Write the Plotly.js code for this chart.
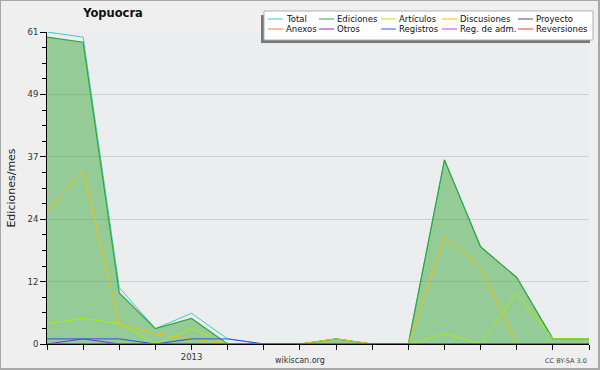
<!DOCTYPE html>
<html>
<head>
<meta charset="utf-8">
<script src="https://cdn.plot.ly/plotly-3.0.1.min.js"></script>
<style>
  html, body { margin: 0; padding: 0; background: #efefef; }
  #wrap { position: relative; width: 600px; height: 370px; }
  #chart { width: 600px; height: 370px; }
  #frame { position: absolute; left: 0; top: 0; width: 600px; height: 370px; box-sizing: border-box;
           border-left: 1px solid #a8a8a8; border-top: 1px solid #a8a8a8;
           border-right: 2px solid #a8a8a8; border-bottom: 2px solid #a8a8a8; pointer-events: none; }
</style>
</head>
<body>
<div id="wrap"><div id="chart"></div><div id="frame"></div></div>
<script>
// Months (Sep 2012 – Dec 2013)
var months = ['2012-09','2012-10','2012-11','2012-12','2013-01','2013-02','2013-03','2013-04',
              '2013-05','2013-06','2013-07','2013-08','2013-09','2013-10','2013-11','2013-12'];
var monthLabels = ['','','','','2013','','','','','','','','','','',''];

// Series (edits per month)
var total       = [61, 60, 11, 3, 6, 1, 0, 0, 1, 0, 0, 36, 19, 13, 1, 1];
var ediciones   = [60, 59, 10, 3, 5, 0, 0, 0, 1, 0, 0, 36, 19, 13, 1, 1];
var articulos   = [ 4,  5,  4, 0, 3, 0, 0, 0, 0, 0, 0,  2,  0, 10, 1, 1];
var discusiones = [26, 34,  4, 2, 1, 0, 0, 0, 1, 0, 0, 21, 15,  0, 0, 0];
var proyecto    = [ 0,  0,  0, 0, 0, 0, 0, 0, 0, 0, 0,  0,  0,  0, 0, 0];
var anexos      = [ 0,  0,  0, 0, 0, 0, 0, 0, 0, 0, 0,  0,  0,  0, 0, 0];
var otros       = [ 0,  1,  0, 0, 0, 0, 0, 0, 0, 0, 0,  0,  0,  0, 0, 0];
var registros   = [ 1,  1,  1, 0, 1, 1, 0, 0, 0, 0, 0,  0,  0,  0, 0, 0];
var regAdm      = [ 0,  0,  0, 0, 0, 0, 0, 0, 0, 0, 0,  0,  0,  0, 0, 0];
var reversiones = [ 0,  0,  0, 0, 0, 0, 0, 0, 0, 0, 0,  0,  0,  0, 0, 0];

var seriesNames  = ['Total','Ediciones','Artículos','Discusiones','Proyecto',
                    'Anexos','Otros','Registros','Reg. de adm.','Reversiones'];
var seriesValues = [total, ediciones, articulos, discusiones, proyecto,
                    anexos, otros, registros, regAdm, reversiones];
var seriesColors = ['#33d0cc','#33a838','#aaee11','#f2c200','#555555',
                    '#ff7f3f','#7a2ad8','#3050e8','#dd33dd','#ff3333'];

// Y ticks
var yMax = 61;
var yTickVals = [0, 12.2, 24.4, 36.6, 48.8, 61];
var yTickText = ['0','12','24','37','49','61'];
var yMinorVals = [3.05, 6.1, 9.15, 15.25, 18.3, 21.35, 27.45, 30.5, 33.55, 39.65, 42.7, 45.75, 51.85, 54.9, 57.95];

// Layout geometry (pixels)
var W = 600, H = 370, ML = 47, MR = 11, MT = 32, MB = 26;
var PW = W - ML - MR, PH = H - MT - MB;
function pxX(x) { return (x - ML) / PW; }
function pxY(y) { return (H - MB - y) / PH; }

var FONT = 'DejaVu Sans';

var traces = seriesNames.map(function (name, i) {
  var t = {
    x: months, y: seriesValues[i], name: name, type: 'scatter', mode: 'lines',
    line: { color: seriesColors[i], width: 1 }, showlegend: false, hoverinfo: 'skip'
  };
  if (name === 'Ediciones') {
    t.fill = 'tozeroy';
    t.fillcolor = 'rgba(60,170,64,0.5)';
    t.line.width = 1.2;
  }
  return t;
});

// Custom legend box (5 columns x 2 rows)
var legendCols = [268, 319, 381, 442, 518];
var legendRows = [19, 29];
var shapes = [
  { type: 'rect', xref: 'paper', yref: 'paper', x0: pxX(261), x1: pxX(590), y0: pxY(15), y1: pxY(43),
    fillcolor: '#777777', line: { width: 0 }, layer: 'above' },
  { type: 'rect', xref: 'paper', yref: 'paper', x0: pxX(264), x1: pxX(593), y0: pxY(11), y1: pxY(40),
    fillcolor: '#ffffff', line: { color: '#b0b0b0', width: 1 }, layer: 'above' }
];
var annotations = [];
seriesNames.forEach(function (name, i) {
  var col = i % 5, row = Math.floor(i / 5);
  var x0 = legendCols[col], y0 = legendRows[row];
  shapes.push({ type: 'line', xref: 'paper', yref: 'paper', x0: pxX(x0), x1: pxX(x0 + 15),
    y0: pxY(y0), y1: pxY(y0), line: { color: seriesColors[i], width: 1 }, layer: 'above' });
  annotations.push({ xref: 'paper', yref: 'paper', x: pxX(x0 + 16), y: pxY(y0), xanchor: 'left', yanchor: 'middle',
    text: name, showarrow: false, font: { family: FONT, size: 8.5, color: '#111' } });
});
annotations.push({ xref: 'paper', yref: 'paper', x: pxX(300), y: pxY(360), xanchor: 'center', yanchor: 'middle',
  text: 'wikiscan.org', showarrow: false, font: { family: FONT, size: 8, color: '#333' } });
annotations.push({ xref: 'paper', yref: 'paper', x: pxX(589), y: pxY(361), xanchor: 'right', yanchor: 'middle',
  text: 'CC BY-SA 3.0', showarrow: false, font: { family: FONT, size: 6.5, color: '#444' } });

var layout = {
  width: W, height: H,
  margin: { l: ML, r: MR, t: MT, b: MB, pad: 0 },
  paper_bgcolor: '#efefef',
  plot_bgcolor: '#ecedef',
  showlegend: false,
  title: { text: 'Yopuocra', x: pxX(113), xref: 'paper', xanchor: 'center', y: 1 - 13 / H, yref: 'container',
           yanchor: 'middle', font: { family: FONT, size: 11.5, weight: 'bold', color: '#111' } },
  xaxis: {
    type: 'category', range: [0, months.length - 1], tickmode: 'array', tickvals: months, ticktext: monthLabels,
    ticks: 'outside', ticklen: 5, tickcolor: '#000', tickwidth: 1, showgrid: false, zeroline: false,
    showline: true, linecolor: '#000', linewidth: 1, fixedrange: true,
    tickfont: { family: FONT, size: 8.5, color: '#333' }
  },
  yaxis: {
    range: [0, yMax], tickmode: 'array', tickvals: yTickVals, ticktext: yTickText,
    ticks: 'outside', ticklen: 6, tickcolor: '#000', tickwidth: 1,
    showgrid: true, gridcolor: '#cfcfcf', gridwidth: 1, zeroline: false,
    showline: true, linecolor: '#000', linewidth: 1, fixedrange: true,
    tickfont: { family: FONT, size: 8.5, color: '#333' },
    minor: { tickmode: 'array', tickvals: yMinorVals, ticks: 'outside', ticklen: 4, tickcolor: '#000', showgrid: false },
    title: { text: 'Ediciones/mes', font: { family: FONT, size: 11, color: '#222' } }
  },
  shapes: shapes,
  annotations: annotations
};

Plotly.newPlot('chart', traces, layout, { displayModeBar: false, staticPlot: true });
</script>
</body>
</html>
